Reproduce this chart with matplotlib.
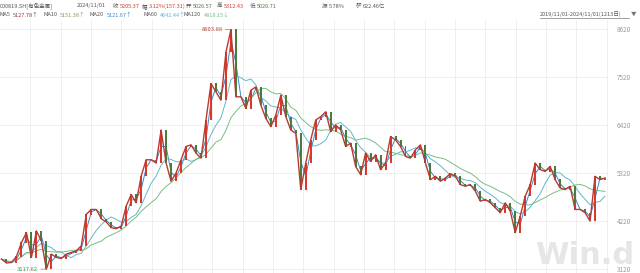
import matplotlib.pyplot as plt
import numpy as np
import pandas as pd
from matplotlib.lines import Line2D

plt.rcParams['font.family'] = ['Noto Sans CJK SC', 'DejaVu Sans']

# closes, one value about every 10 trading days
close = [3348, 3257, 3272, 3408, 3727, 3954, 3386, 3992, 3765, 3117.62,
         3461, 3386, 3363, 3461, 3499, 3537, 3651, 4372, 4485, 4485,
         4273, 4197, 4068, 4045, 4106, 4561, 4827, 4637, 5244, 5623,
         5623, 5548, 6306, 5548, 5130, 5320, 5623, 5927, 5965, 5775,
         5661, 6534, 7368, 7179, 6989, 8089, 8603.88, 7065, 7065, 6799,
         7216, 7292, 6875, 6572, 6382, 6647, 7103, 6610, 6306, 6230,
         4941, 5548, 6079, 6534,
         6610, 6723, 6268, 6420, 6306, 5927, 6003, 5472, 5282, 5775,
         5585, 5737, 5396, 5548, 6154, 6079, 5927, 5699, 5661, 5851,
         5965, 5548, 5168, 5244, 5130, 5206, 5305, 5244, 5054, 5017,
         5054, 4903, 4675, 4713, 4637, 4523, 4410, 4637, 4448, 3954,
         4334, 4789, 5054, 5548, 5396, 5358, 5472, 5168, 4979, 4941,
         5017, 4485, 4485, 4410, 4220, 5244, 5168, 5205.37]

ma_days = [5, 10, 20, 60, 120]
ma_last = ['5127.78↑', '5151.38↑', '5121.67↑', '4642.44↑', '4818.15↓']
ma_colors = ['#8c3b3b', '#9c8f68', '#3d86c6', '#62b6cf', '#78bd84']

yticks = [3120, 4220, 5320, 6420, 7520, 8620]

red = '#d8392c'
green = '#4b7a3e'
dark = '#555555'

fig = plt.figure(figsize=(6.4, 2.73), dpi=100)
ax = fig.add_axes([0, 0, 608 / 640, 253 / 273])

n = len(close)
idx = np.arange(n)
c = np.array(close)
o = np.array([close[0]] + close[:-1])
cols = np.where(c >= o, red, green)
ax.bar(idx, np.abs(c - o) + 8, bottom=np.minimum(c, o) - 4, width=0.4,
       color=cols, zorder=3)
ax.plot(idx, c, color='#b83a30', lw=1.0, zorder=3)

s = pd.Series(close)
for days, col in zip(ma_days, ma_colors):
    if days < 20:
        continue
    ma = s.rolling(days // 10, min_periods=1).mean()
    ax.plot(idx, ma, color=col, lw=0.7, zorder=2)

imax = int(np.argmax(c))
imin = int(np.argmin(c))
ax.annotate(f'{c[imax]:.2f}', xy=(imax, c[imax]), xytext=(-6, 0),
            textcoords='offset points', ha='right', va='center',
            fontsize=4.2, color='#b5473f',
            arrowprops=dict(arrowstyle='-', color='#888888', lw=0.5,
                            shrinkA=0, shrinkB=0))
ax.annotate(f'{c[imin]:.2f}', xy=(imin, c[imin]), xytext=(-6, 0),
            textcoords='offset points', ha='right', va='center',
            fontsize=4.2, color='#4a8a5a',
            arrowprops=dict(arrowstyle='-', color='#888888', lw=0.5,
                            shrinkA=0, shrinkB=0))

# faint watermark, lower right
fig.text(535 / 640, 1 - 264 / 273, 'Win.d', fontsize=22,
         fontweight='bold', color='#e6e6e6', family='DejaVu Sans',
         ha='left', va='baseline', zorder=0)

ax.set_xlim(-0.3, 121.6)
ax.set_ylim(3029, 8825)
ax.set_yticks(yticks)
ax.set_xticks(np.arange(5.8, 122, 6.08))
ax.set_xticklabels([])
ax.grid(True, color='#ececec', lw=0.6, zorder=0)
ax.set_facecolor('none')
ax.yaxis.tick_right()
ax.tick_params(axis='y', length=0, pad=6.5, labelsize=4.6, labelcolor='#9a9a9a')
ax.tick_params(axis='x', length=0)
for sp in ax.spines.values():
    sp.set_visible(False)


def put(xpx, ypx, txt, color=dark):
    fig.text(xpx / 640, 1 - ypx / 273, txt, fontsize=4.0, color=color,
             ha='left', va='center')


line1 = [(0, '000819.SH[有色金属]', dark), (77, '2024/11/01', dark),
         (113, '收', dark), (119.5, '5205.37', red),
         (142, '幅', dark), (148.5, '3.12%(157.31)', red),
         (186, '开', dark), (192.5, '5026.57', green),
         (217, '高', dark), (223.5, '5312.43', red),
         (250, '低', dark), (256.5, '5020.71', green),
         (322, '振', dark), (328.5, '5.78%', dark),
         (356, '额', dark), (362.5, '622.46亿', dark)]
for xp, t, col in line1:
    put(xp, 6, t, col)

label_x = [0, 43, 90, 143, 184]
value_x = [13, 60, 107, 160, 204]
for lx, vx, d, v, col in zip(label_x, value_x, ma_days, ma_last, ma_colors):
    put(lx, 15, f'MA{d}')
    put(vx, 15, v, col)

put(540, 14, '2019/11/01-2024/11/01(1213日)', '#555555')
put(631, 14, '▼', '#777777')
fig.add_artist(Line2D([540 / 640, 629 / 640], [1 - 18 / 273, 1 - 18 / 273],
                      color='#555555', lw=0.4))

plt.savefig('out.png', dpi=100)
